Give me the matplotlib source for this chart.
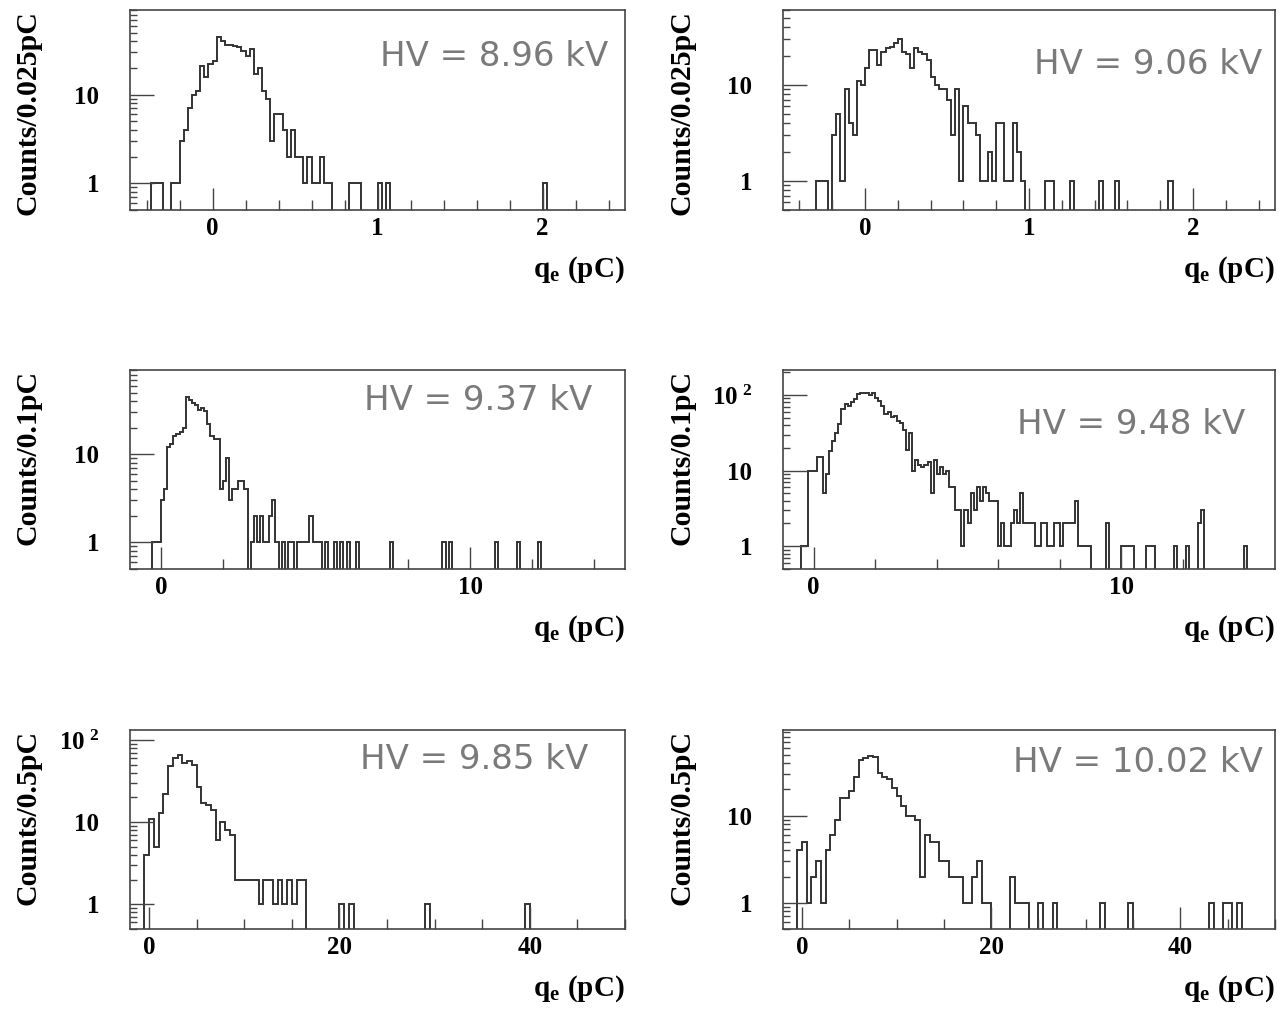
import numpy as np
import matplotlib
matplotlib.use('Agg')
import matplotlib.pyplot as plt
from matplotlib.ticker import LogLocator, MultipleLocator, FuncFormatter, NullFormatter

plt.rcParams['mathtext.fontset'] = 'custom'
plt.rcParams['mathtext.rm'] = 'Liberation Serif:bold'
plt.rcParams['mathtext.bf'] = 'Liberation Serif:bold'
plt.rcParams['mathtext.it'] = 'Liberation Serif:bold'

# ---------------- data ----------------
hv_labels = ["HV = 8.96 kV", "HV = 9.06 kV", "HV = 9.37 kV",
             "HV = 9.48 kV", "HV = 9.85 kV", "HV = 10.02 kV"]
y_titles = ["Counts/0.025pC", "Counts/0.025pC", "Counts/0.1pC",
            "Counts/0.1pC", "Counts/0.5pC", "Counts/0.5pC"]
x_title = r"$\mathrm{q_{e}\ (pC)}$"

# histogram ranges: (xmin, xmax, bin width)
ranges = [(-0.5, 2.5, 0.025), (-0.5, 2.5, 0.025), (-1.0, 15.0, 0.1),
          (-1.0, 15.0, 0.1), (-2.0, 50.0, 0.5), (-2.0, 50.0, 0.5)]

counts_896 = ([0]*5 + [1, 1, 1, 0, 0, 1, 1, 3, 4, 7, 10, 11, 21, 16, 22, 24, 45, 40, 36, 36,
               35, 34, 31, 27, 33, 17, 20, 11, 9, 3, 6, 6, 4, 2, 4, 2, 2, 1, 2, 1,
               1, 2, 1, 1, 0, 0, 0, 0, 1, 1, 1, 0, 0, 0, 0, 1, 0, 1]
              + [0]*37 + [1] + [0]*19)

counts_906 = ([0]*8 + [1, 1, 1, 0, 3, 5, 1, 9, 4, 3, 11, 10, 15, 23, 23, 16, 22, 24, 25, 27,
               30, 22, 21, 15, 24, 22, 21, 18, 12, 10, 9, 9, 7, 3, 9, 1, 6, 4, 4, 3,
               1, 1, 2, 1, 4, 4, 1, 1, 4, 2, 1, 0, 0, 0, 0, 0, 1, 1, 0, 0,
               0, 0, 1, 0, 0, 0, 0, 0, 0, 1, 0, 0, 0, 1] + [0]*12 + [1] + [0]*25)

counts_937 = ([0]*7 + [1, 1, 1, 3, 4, 12, 13, 16, 17, 18, 20, 45, 41, 38, 36, 32, 33, 31,
               22, 16, 15, 15, 4, 5, 9, 3, 4, 4, 5, 5, 4, 0, 1, 2, 1, 2, 1, 1,
               2, 3, 1, 0, 1, 0, 1, 1, 0, 1, 1, 1, 1, 2, 1, 1, 1, 0, 1, 0,
               0, 1, 0, 1, 0, 1, 0, 0, 1] + [0]*10 + [1] + [0]*16 + [1, 0, 1]
              + [0]*14 + [1] + [0]*6 + [1] + [0]*6 + [1] + [0]*27)

counts_948 = ([0]*6 + [1, 1, 10, 10, 10, 15, 15, 5, 9, 18, 25, 31, 41, 65, 75, 72, 80, 88,
               102, 107, 107, 105, 100, 107, 92, 84, 72, 56, 59, 51, 53, 45, 43, 34,
               19, 31, 10, 14, 12, 11, 12, 13, 5, 14, 9, 11, 9, 10, 6, 6, 3, 3, 1, 3,
               2, 5, 3, 6, 4, 6, 5, 4, 4, 4, 1, 2, 1, 1, 2, 3, 2, 5, 2, 2,
               2, 2, 1, 1, 2, 2, 1, 1, 2, 2, 1, 2, 2, 2, 2, 4, 1, 1, 1, 1,
               0, 0, 0, 0, 0, 2, 0, 0, 0, 0, 1, 1, 1, 1, 0, 0, 0, 0, 1, 1,
               1, 0, 0, 0, 0, 0, 0, 1, 0, 0, 0, 1, 0, 0, 0, 2, 3]
              + [0]*13 + [1] + [0]*9)

counts_985 = ([0]*3 + [4, 11, 5, 13, 22, 48, 60, 66, 52, 55, 50, 27, 17, 16, 14, 6, 10, 8, 7,
               2, 2, 2, 2, 2, 1, 2, 2, 1, 2, 1, 2, 1, 2, 2]
              + [0]*7 + [1, 0, 1] + [0]*15 + [1] + [0]*20 + [1] + [0]*20)

counts_1002 = ([0]*3 + [4, 5, 1, 2, 3, 1, 4, 6, 9, 16, 16, 19, 28, 43, 46, 48, 47, 31, 28,
                26, 21, 17, 13, 10, 10, 9, 2, 6, 5, 5, 3, 3, 2, 2, 2, 1, 1, 2, 3,
                1, 1, 0, 0, 0, 0, 2, 1, 1, 1, 0, 0, 1, 0, 0, 1] + [0]*9 + [1]
               + [0]*5 + [1] + [0]*16 + [1, 0, 0, 1, 1, 0, 1] + [0]*7)

all_counts = [counts_896, counts_906, counts_937, counts_948, counts_985, counts_1002]

# ---------------- layout ----------------
W, H = 1279, 1009
fig = plt.figure(figsize=(W / 100, H / 100), dpi=100)

boxes = [(130, 10, 625, 210), (783, 10, 1275, 210),
         (130, 370, 625, 569), (783, 370, 1275, 569),
         (130, 730, 625, 929), (783, 730, 1275, 929)]
major_step = [1, 1, 10, 10, 20, 20]
minor_step = [0.2, 0.2, 2, 2, 5, 5]
hv_pos = [(0.966, 0.765), (0.974, 0.725), (0.933, 0.845),
          (0.939, 0.725), (0.925, 0.85), (0.976, 0.835)]

serif = 'Liberation Serif'
line_col = '#333333'
frame_col = '#444444'


def ylab(v, pos):
    if abs(v - 1) < 1e-9:
        return '1'
    if abs(v - 10) < 1e-9:
        return '10'
    if abs(v - 100) < 1e-9:
        return r'$10^{\ 2}$'
    return ''


for i in range(6):
    x0, y0, x1, y1 = boxes[i]
    ax = fig.add_axes([x0 / W, 1 - y1 / H, (x1 - x0) / W, (y1 - y0) / H])
    xmin, xmax, bw = ranges[i]
    c = np.array(all_counts[i], dtype=float)
    n = int(round((xmax - xmin) / bw))
    assert len(c) == n, (i, len(c), n)
    edges = xmin + bw * np.arange(n + 1)
    vals = np.where(c > 0, c, 1e-3)
    ax.stairs(vals, edges, baseline=None, color=line_col, lw=1.4)
    ax.set_yscale('log')
    ax.set_xlim(xmin, xmax)
    ax.set_ylim(0.5, 2 * c.max())

    ax.xaxis.set_major_locator(MultipleLocator(major_step[i]))
    ax.xaxis.set_minor_locator(MultipleLocator(minor_step[i]))
    ax.xaxis.set_major_formatter(FuncFormatter(lambda v, p: '%g' % v))
    ax.yaxis.set_major_locator(LogLocator(base=10, numticks=10))
    ax.yaxis.set_minor_locator(LogLocator(base=10, subs=np.arange(2, 10), numticks=20))
    ax.yaxis.set_major_formatter(FuncFormatter(ylab))
    ax.yaxis.set_minor_formatter(NullFormatter())

    ax.tick_params(axis='both', which='both', direction='in', top=False, right=False,
                   color=frame_col, width=1.0)
    ax.tick_params(axis='x', which='major', length=16, pad=5)
    ax.tick_params(axis='x', which='minor', length=7)
    ax.tick_params(axis='y', which='major', length=17, pad=22)
    ax.tick_params(axis='y', which='minor', length=5)
    for lab in ax.get_xticklabels() + ax.get_yticklabels():
        lab.set_fontfamily(serif)
        lab.set_fontweight('bold')
        lab.set_fontsize(18)
    for s in ax.spines.values():
        s.set_color(frame_col)
        s.set_linewidth(1.2)

    ax.text(-0.206, 1.0, y_titles[i], rotation=90, ha='center', va='top',
            transform=ax.transAxes, fontfamily=serif, fontweight='bold', fontsize=21.5)
    ax.text(1.0, -0.30, x_title, ha='right', va='center', transform=ax.transAxes,
            fontsize=21)
    ax.text(hv_pos[i][0], hv_pos[i][1], hv_labels[i], ha='right', va='center',
            transform=ax.transAxes, fontfamily='DejaVu Sans', fontsize=24.5,
            color='#7a7a7a')

fig.savefig('out.png', dpi=100)
